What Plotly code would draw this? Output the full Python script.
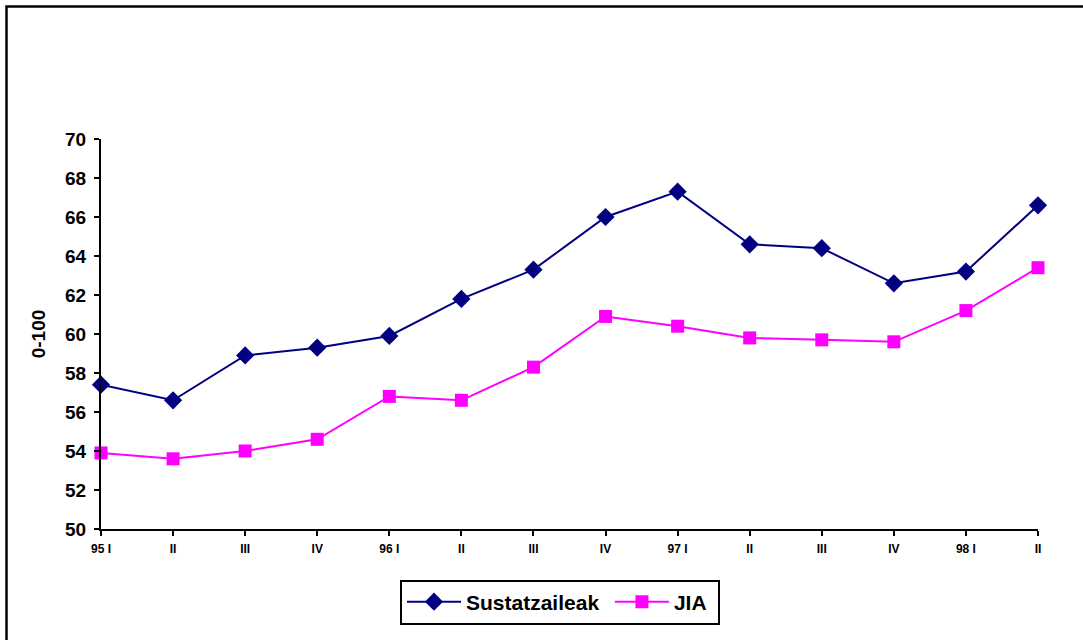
import plotly.graph_objects as go

quarters = ["95 I", "II", "III", "IV", "96 I", "II", "III", "IV",
            "97 I", "II", "III", "IV", "98 I", "II"]
sustatzaileak = [57.4, 56.6, 58.9, 59.3, 59.9, 61.8, 63.3, 66.0,
                 67.3, 64.6, 64.4, 62.6, 63.2, 66.6]
jia = [53.9, 53.6, 54.0, 54.6, 56.8, 56.6, 58.3, 60.9,
       60.4, 59.8, 59.7, 59.6, 61.2, 63.4]
y_ticks = [50, 52, 54, 56, 58, 60, 62, 64, 66, 68, 70]

x_pos = list(range(len(quarters)))
font_family = "Liberation Sans, Arial, sans-serif"


def bold(s):
    return f"<b>{s}</b>"


fig = go.Figure()
fig.add_trace(go.Scatter(
    x=x_pos, y=sustatzaileak, name=bold("Sustatzaileak") + "\u00a0", mode="lines+markers",
    line=dict(color="#000080", width=2),
    marker=dict(symbol="diamond", size=14, color="#000080"),
    cliponaxis=False,
))
fig.add_trace(go.Scatter(
    x=x_pos, y=jia, name=bold("JIA") + "\u00a0", mode="lines+markers",
    line=dict(color="#FF00FF", width=2),
    marker=dict(symbol="square", size=13, color="#FF00FF"),
    cliponaxis=False,
))

W, H = 1083, 640
ml, mr, mt, mb = 101, 45, 139, 111
pw, ph = W - ml - mr, H - mt - mb

# outer frame (open on right and bottom edges of the page)
fx0 = (6.5 - ml) / pw
fy1 = (H - mb - 6.5) / ph
fig.add_shape(type="rect", xref="paper", yref="paper",
              x0=fx0, x1=1.2, y0=-0.5, y1=fy1,
              line=dict(color="black", width=2.5), layer="below")

fig.update_layout(
    width=W, height=H,
    margin=dict(l=ml, r=mr, t=mt, b=mb),
    paper_bgcolor="white", plot_bgcolor="white",
    font=dict(family=font_family, color="black"),
    showlegend=True,
    legend=dict(
        orientation="h", x=(400 - ml) / pw, xanchor="left",
        y=-(602 - (H - mb)) / ph, yanchor="middle",
        bordercolor="black", borderwidth=2,
        font=dict(size=21, family=font_family),
        itemwidth=54, tracegroupgap=0,
    ),
    xaxis=dict(
        range=[0, len(quarters) - 1],
        tickvals=x_pos, ticktext=[bold(q) for q in quarters],
        tickfont=dict(size=12),
        showgrid=False, zeroline=False,
        showline=True, linecolor="black", linewidth=2,
        ticks="outside", ticklen=5, tickwidth=2, tickcolor="black",
        ticklabelstandoff=3,
    ),
    yaxis=dict(
        range=[50, 70], tickvals=y_ticks,
        ticktext=[bold(v) for v in y_ticks],
        tickfont=dict(size=19),
        title=dict(text=bold("0-100"), font=dict(size=19), standoff=14),
        showgrid=False, zeroline=False,
        showline=True, linecolor="black", linewidth=2,
        ticks="outside", ticklen=5, tickwidth=2, tickcolor="black",
        ticklabelstandoff=4,
    ),
)

fig.write_html("out.html")
